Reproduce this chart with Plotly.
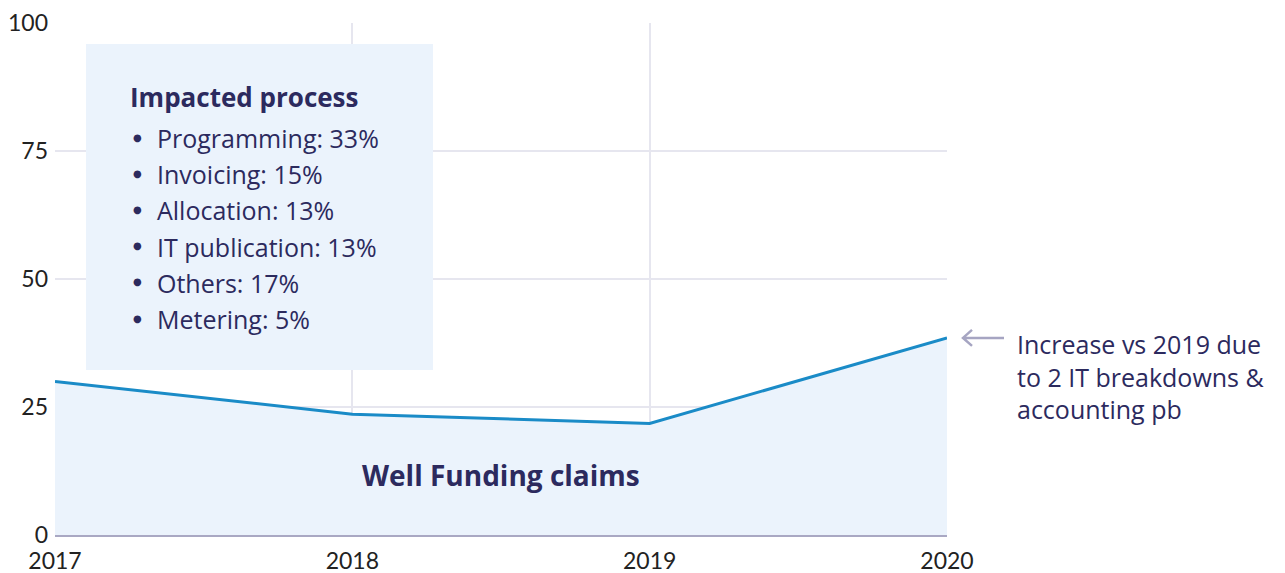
import plotly.graph_objects as go

# ---- data ----
years = [2017, 2018, 2019, 2020]
claims = [30.0, 23.6, 21.8, 38.5]
y_ticks = [0, 25, 50, 75, 100]
process_names = ["Programming", "Invoicing", "Allocation", "IT publication", "Others", "Metering"]
process_shares = [33, 15, 13, 13, 17, 5]
box_title = "Impacted process"
series_label = "Well Funding claims"
note_lines = ["Increase vs 2019 due", "to 2 IT breakdowns &", "accounting pb"]

# ---- layout geometry (screen pixels; page body has an 8px margin) ----
OFF = 8
W, H = 1285 - OFF, 573 - OFF
PL, PT, PR, PB = 55, 23, 947, 535          # plot area on screen
PW, PH = PR - PL, PB - PT
TFONT = "Open Sans"
NAVY = "#2c2a5e"


def xp(px):
    return (px - PL) / PW


def yp(py):
    return (PB - py) / PH


fig = go.Figure()
fig.add_trace(go.Scatter(
    x=years, y=claims, mode="lines", fill="tozeroy",
    fillcolor="#ebf3fc", line=dict(color="#1a8bc7", width=3),
    hoverinfo="skip", showlegend=False,
))

shapes = [
    dict(type="rect", xref="paper", yref="paper", x0=xp(86), x1=xp(433), y0=yp(370), y1=yp(44),
         fillcolor="#ebf3fc", line=dict(width=0), layer="above"),
    dict(type="path", xref="paper", yref="paper", xsizemode="pixel", ysizemode="pixel",
         xanchor=1.0, yanchor=claims[-1] / y_ticks[-1],
         path="M 57 0 L 16 0 M 25 -8 L 16 0 L 25 8",
         line=dict(color="#a6a5c2", width=2.5), layer="above"),
]

annotations = [
    dict(x=xp(128), y=yp(97), xref="paper", yref="paper", text="<b>" + box_title + "</b>",
         showarrow=False, xanchor="left", yanchor="middle",
         font=dict(family=TFONT, size=26, color=NAVY)),
]
for i, (n, s) in enumerate(zip(process_names, process_shares)):
    yy = yp(138 + i * 36.2)
    annotations.append(dict(
        x=xp(137), y=yy, xref="paper", yref="paper",
        text="●", showarrow=False, xanchor="center", yanchor="middle", yshift=1,
        font=dict(family="DejaVu Sans", size=10, color=NAVY)))
    annotations.append(dict(
        x=xp(155), y=yy, xref="paper", yref="paper",
        text=f"{n}: {s}%", showarrow=False, xanchor="left", yanchor="middle",
        font=dict(family=TFONT, size=25, color=NAVY)))

annotations.append(dict(
    x=xp(501), y=yp(475), xref="paper", yref="paper", text="<b>" + series_label + "</b>",
    showarrow=False, xanchor="center", yanchor="middle",
    font=dict(family=TFONT, size=28, color=NAVY)))

for i, line in enumerate(note_lines):
    annotations.append(dict(
        x=xp(1015), y=yp(344 + i * 32.5), xref="paper", yref="paper", text=line,
        showarrow=False, xanchor="left", yanchor="middle",
        font=dict(family=TFONT, size=25, color=NAVY)))

fig.update_layout(
    width=W, height=H,
    margin=dict(l=PL - OFF, r=1285 - PR, t=PT - OFF, b=573 - PB, autoexpand=False),
    paper_bgcolor="white", plot_bgcolor="white",
    shapes=shapes, annotations=annotations,
    xaxis=dict(range=[years[0], years[-1]], tickvals=years, ticktext=[str(y) for y in years],
               showgrid=True, gridcolor="#e6e6ef", gridwidth=2, zeroline=False, showline=False,
               ticks="", ticklabelstandoff=10,
               tickfont=dict(family="Lato", size=23, color="#222222")),
    yaxis=dict(range=[0, 100], tickvals=y_ticks, showgrid=True, gridcolor="#e6e6ef", gridwidth=2,
               zeroline=True, zerolinecolor="#a9a8c3", zerolinewidth=3, showline=False,
               ticks="", ticklabelstandoff=6,
               tickfont=dict(family="Lato", size=23, color="#222222")),
)

fig.write_html("out.html")
